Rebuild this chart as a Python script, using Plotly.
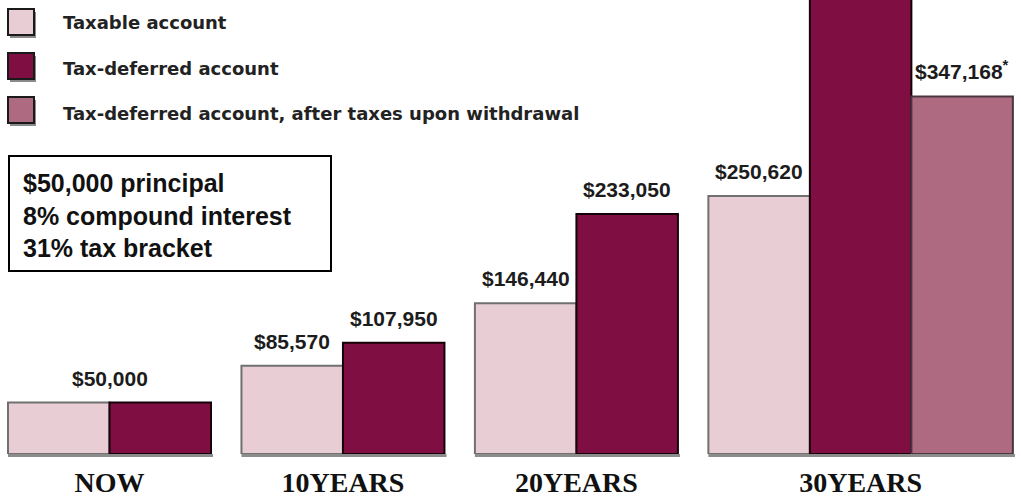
import plotly.graph_objects as go

# ---------------- data ----------------
groups = ["NOW", "10YEARS", "20YEARS", "30YEARS"]
series_names = ["Taxable account", "Tax-deferred account",
                "Tax-deferred account, after taxes upon withdrawal"]
taxable = [50000, 85570, 146440, 250620]
tax_deferred = [50000, 107950, 233050, 503133]
after_tax = [None, None, None, 347168]
taxable_labels = ["$50,000", "$85,570", "$146,440", "$250,620"]
deferred_labels = ["$50,000", "$107,950", "$233,050", None]
after_labels = [None, None, None, "$347,168<sup>*</sup>"]
info_lines = ["$50,000 principal", "8% compound interest", "31% tax bracket"]

# ---------------- style ----------------
fills = ["#E9CDD4", "#7F0F43", "#AD6A80"]
edges = ["#707070", "#150008", "#4A3640"]
W, H = 1021, 499
BOTTOM = 45          # px below baseline
PLOT_H = H - BOTTOM
GAP = 0.30           # gap between groups, in bar widths
Y_MAX = 440800
X_MIN = -0.0788
X_MAX = 9.98

all_series = [taxable, tax_deferred, after_tax]
all_labels = [taxable_labels, deferred_labels, after_labels]

# bar positions derived from how many bars each group has
counts = [sum(1 for s in all_series if s[g] is not None) for g in range(len(groups))]
lefts, acc = [], 0.0
for c in counts:
    lefts.append(acc)
    acc += c + GAP
centers_group = [l + c / 2 for l, c in zip(lefts, counts)]

fig = go.Figure()
annotations = []
shapes = []

# soft grey shadow under each group of bars
for g in range(len(groups)):
    shapes.append(dict(type="rect", xref="x", yref="paper",
                       x0=lefts[g], x1=lefts[g] + counts[g] + 0.02,
                       y0=-3 / PLOT_H, y1=0, line=dict(width=0),
                       fillcolor="#8c8c8c", layer="below"))

for si, (vals, labs) in enumerate(zip(all_series, all_labels)):
    xs, ys = [], []
    for g, v in enumerate(vals):
        if v is None:
            continue
        idx = sum(1 for s in all_series[:si] if s[g] is not None)
        xs.append(lefts[g] + idx + 0.5)
        ys.append(v)
    fig.add_trace(go.Bar(
        x=xs, y=ys, width=1.0, name=series_names[si],
        marker=dict(color=fills[si], line=dict(color=edges[si], width=2)),
        showlegend=False, hoverinfo="skip",
    ))

label_font = dict(family="Liberation Sans, Arial, sans-serif", size=21, color="#1c1c1c")
for g in range(len(groups)):
    present = [(si, all_series[si][g], all_labels[si][g]) for si in range(3)
               if all_series[si][g] is not None]
    vals = [p[1] for p in present]
    if len(set(vals)) == 1:
        annotations.append(dict(x=centers_group[g], y=vals[0], xref="x", yref="y",
                                text="<b>%s</b>" % present[0][2], showarrow=False,
                                yanchor="bottom", yshift=11, font=label_font))
        continue
    for k, (si, v, lab) in enumerate(present):
        if lab is None:
            continue
        annotations.append(dict(x=lefts[g] + k + 0.5, y=v, xref="x", yref="y",
                                text="<b>%s</b>" % lab, showarrow=False,
                                yanchor="bottom", yshift=11, font=label_font))

# helpers for pixel -> paper
def px(x):
    return x / W

def py(y):
    return (PLOT_H - y) / PLOT_H

# legend (manual)
leg_tops = [9, 53, 97]
leg_text_y = [22, 68, 113]
for i, t in enumerate(leg_tops):
    shapes.append(dict(type="rect", xref="paper", yref="paper",
                       x0=px(10), x1=px(36), y0=py(t + 29), y1=py(t + 3),
                       line=dict(width=0), fillcolor="#8a8a8a"))
    shapes.append(dict(type="rect", xref="paper", yref="paper",
                       x0=px(8), x1=px(34), y0=py(t + 26), y1=py(t),
                       line=dict(color="#1a1a1a", width=2), fillcolor=fills[i]))
    annotations.append(dict(x=px(61), y=py(leg_text_y[i]), xref="paper", yref="paper",
                            text="<b>%s</b>" % series_names[i], showarrow=False,
                            xanchor="left", yanchor="middle",
                            font=dict(family="DejaVu Sans, Verdana, sans-serif",
                                      size=18, color="#222")))

# info box
shapes.append(dict(type="rect", xref="paper", yref="paper",
                   x0=px(9), x1=px(331), y0=py(271), y1=py(156),
                   line=dict(color="#000", width=2), fillcolor="white"))
annotations.append(dict(x=px(21), y=py(215), xref="paper", yref="paper",
                        text="<br>".join("<b>%s</b>" % s for s in info_lines),
                        showarrow=False, xanchor="left", yanchor="middle", align="left",
                        font=dict(family="Liberation Sans, Arial, sans-serif",
                                  size=25, color="#111")))

fig.update_layout(
    width=W, height=H,
    margin=dict(l=0, r=0, t=0, b=BOTTOM),
    plot_bgcolor="white", paper_bgcolor="white",
    barmode="overlay",
    shapes=shapes, annotations=annotations,
    xaxis=dict(range=[X_MIN, X_MAX], tickmode="array", tickvals=centers_group,
               ticktext=["<b>%s</b>" % g for g in groups],
               tickfont=dict(family="Liberation Serif, Times New Roman, serif",
                             size=28, color="#111"),
               ticklabelstandoff=9,
               showgrid=False, zeroline=False, showline=False, ticks="",
               fixedrange=True),
    yaxis=dict(range=[0, Y_MAX], visible=False, showgrid=False, zeroline=False,
               fixedrange=True),
)

fig.write_html("out.html")
